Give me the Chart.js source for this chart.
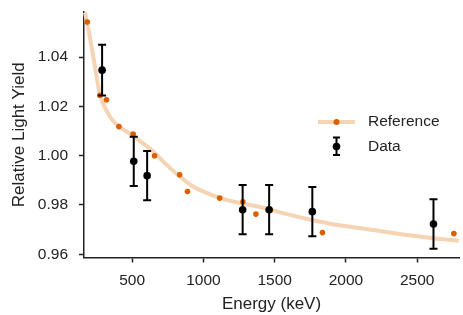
<!DOCTYPE html>
<html>
<head>
<meta charset="utf-8">
<script src="https://cdn.jsdelivr.net/npm/chart.js@4.4.0/dist/chart.umd.min.js"></script>
<style>
  html, body { margin: 0; padding: 0; background: #fff; }
  #wrap { width: 463px; height: 315px; }
</style>
</head>
<body>
<div id="wrap"><canvas id="chart" width="463" height="315"></canvas></div>
<script>
// measured data points with errors
var dataEnergy = [289, 511, 605, 1275, 1461, 1764, 2614];
var dataYield = [1.0347, 0.9977, 0.9919, 0.9781, 0.9781, 0.9773, 0.9723];
var dataErr = [0.0103, 0.01, 0.01, 0.01, 0.01, 0.01, 0.01];

// reference points
var refEnergy = [185, 273, 320, 407, 507, 657, 833, 888, 1114, 1277, 1368, 1835, 2757];
var refYield = [1.0542, 1.0245, 1.0227, 1.0118, 1.0088, 1.0000, 0.9923, 0.9855, 0.9828, 0.9813, 0.9763, 0.9688, 0.9684];

// smooth reference curve
var curveEnergy = [169, 199, 232, 273, 320, 365, 435, 504, 551, 643, 736, 828, 920, 1013, 1105, 1198, 1291, 1452, 1543, 1730, 1889, 2125, 2354, 2583, 2791];
var curveYield = [1.0581, 1.0494, 1.0385, 1.0250, 1.0183, 1.0142, 1.0108, 1.0081, 1.0061, 1.0020, 0.9966, 0.9919, 0.9878, 0.9851, 0.9831, 0.9815, 0.9804, 0.9784, 0.9769, 0.9743, 0.9724, 0.9704, 0.9684, 0.9667, 0.9655];

var xTicks = [500, 1000, 1500, 2000, 2500];
var yTicks = [0.96, 0.98, 1.00, 1.02, 1.04];

var curveColor = '#f6d3b3';
var refColor = '#d95f02';
var textColor = '#222';
var fontFamily = '"Liberation Sans", Arial, sans-serif';

function pts(xs, ys) {
    return xs.map(function(x, i) { return {x: x, y: ys[i]}; });
}

var errorBars = {
    id: 'errorBars',
    afterDatasetsDraw(chart) {
        const ctx = chart.ctx;
        const xs = chart.scales.x, ys = chart.scales.y;
        ctx.save();
        ctx.strokeStyle = '#000';
        ctx.fillStyle = '#000';
        ctx.lineWidth = 2;
        dataEnergy.forEach(function(e, i) {
            const px = xs.getPixelForValue(e);
            const top = ys.getPixelForValue(dataYield[i] + dataErr[i]);
            const bot = ys.getPixelForValue(dataYield[i] - dataErr[i]);
            ctx.beginPath();
            ctx.moveTo(px, top); ctx.lineTo(px, bot);
            ctx.moveTo(px - 4, top); ctx.lineTo(px + 4, top);
            ctx.moveTo(px - 4, bot); ctx.lineTo(px + 4, bot);
            ctx.stroke();
            ctx.beginPath();
            ctx.arc(px, ys.getPixelForValue(dataYield[i]), 3.8, 0, Math.PI * 2);
            ctx.fill();
        });
        ctx.restore();
    }
};

var legendBox = {
    id: 'legendBox',
    afterDraw(chart) {
        const ctx = chart.ctx;
        ctx.save();
        // Reference entry
        ctx.strokeStyle = curveColor;
        ctx.lineWidth = 4;
        ctx.beginPath();
        ctx.moveTo(318, 122); ctx.lineTo(355, 122);
        ctx.stroke();
        ctx.fillStyle = refColor;
        ctx.beginPath();
        ctx.arc(336.5, 122, 3, 0, Math.PI * 2);
        ctx.fill();
        // Data entry
        ctx.strokeStyle = '#000';
        ctx.lineWidth = 2;
        ctx.beginPath();
        ctx.moveTo(336.5, 137.5); ctx.lineTo(336.5, 155);
        ctx.moveTo(333, 137.5); ctx.lineTo(340, 137.5);
        ctx.moveTo(333, 155); ctx.lineTo(340, 155);
        ctx.stroke();
        ctx.fillStyle = '#000';
        ctx.beginPath();
        ctx.arc(336.5, 146.5, 3.8, 0, Math.PI * 2);
        ctx.fill();
        ctx.fillStyle = textColor;
        ctx.font = '15.5px ' + fontFamily;
        ctx.textBaseline = 'middle';
        ctx.textAlign = 'left';
        ctx.fillText('Reference', 368, 122);
        ctx.fillText('Data', 368, 147);
        ctx.restore();
    }
};

new Chart(document.getElementById('chart').getContext('2d'), {
    type: 'scatter',
    data: {
        datasets: [
            {
                label: 'Reference curve',
                type: 'line',
                data: pts(curveEnergy, curveYield),
                borderColor: curveColor,
                borderWidth: 4,
                pointRadius: 0,
                cubicInterpolationMode: 'monotone',
                fill: false,
                order: 3
            },
            {
                label: 'Reference',
                data: pts(refEnergy, refYield),
                backgroundColor: refColor,
                borderWidth: 0,
                pointRadius: 2.8,
                order: 2
            }
        ]
    },
    plugins: [errorBars, legendBox],
    options: {
        responsive: false,
        animation: false,
        clip: false,
        layout: { padding: { top: 12, right: 0, left: 0, bottom: 0 } },
        plugins: { legend: { display: false }, tooltip: { enabled: false } },
        scales: {
            x: {
                type: 'linear',
                min: 162,
                max: 2793,
                afterFit(scale) {
                    scale.height = 57.5;
                    scale.paddingLeft = 0; scale.paddingRight = 0;
                },
                afterBuildTicks(scale) { scale.ticks = xTicks.map(function(v) { return {value: v}; }); },
                grid: { display: true, drawOnChartArea: false, drawTicks: true, tickLength: 5, tickWidth: 1.5, tickColor: textColor },
                border: { display: true, color: textColor, width: 1.5 },
                ticks: {
                    color: textColor, padding: 8.5, maxRotation: 0,
                    font: { family: fontFamily, size: 15.5 },
                    callback: function(v) { return String(v); }
                },
                title: { display: true, text: 'Energy (keV)', color: textColor, padding: { top: 4, bottom: 0 }, font: { family: fontFamily, size: 17 } }
            },
            y: {
                type: 'linear',
                min: 0.9587,
                max: 1.0583,
                afterFit(scale) {
                    scale.width = 84;
                    scale.paddingTop = 0; scale.paddingBottom = 0;
                },
                afterBuildTicks(scale) { scale.ticks = yTicks.map(function(v) { return {value: v}; }); },
                grid: { display: true, drawOnChartArea: false, drawTicks: true, tickLength: 5, tickWidth: 1.5, tickColor: textColor },
                border: { display: true, color: textColor, width: 1.5 },
                ticks: {
                    color: textColor, padding: 11,
                    font: { family: fontFamily, size: 15.5 },
                    callback: function(v) { return v.toFixed(2); }
                },
                title: { display: true, text: 'Relative Light Yield', color: textColor, padding: { top: 9.5, bottom: 4 }, font: { family: fontFamily, size: 17 } }
            }
        }
    }
});
</script>
</body>
</html>
